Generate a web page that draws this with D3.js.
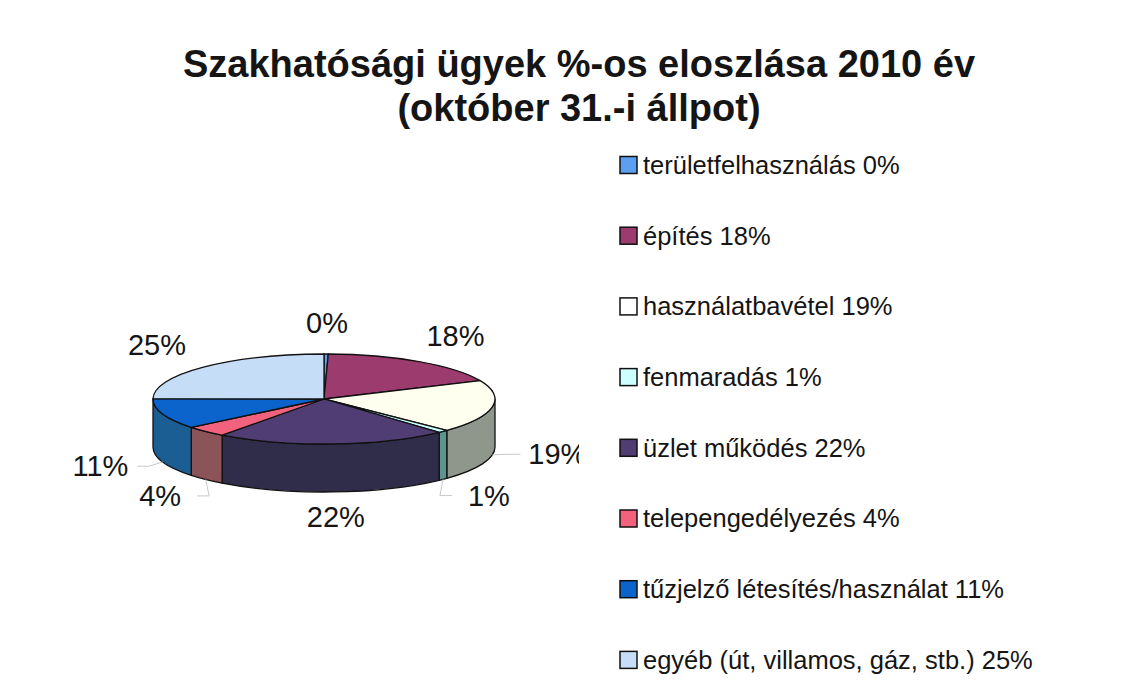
<!DOCTYPE html>
<html>
<head>
<meta charset="utf-8">
<script src="https://cdn.jsdelivr.net/npm/d3@7"></script>
<style>
  body { margin: 0; background: #fff; }
  text { font-family: "Liberation Sans", Arial, sans-serif; fill: #151515; }
</style>
</head>
<body>
<div id="chart"></div>
<script>
const width = 1131, height = 687;

// data (percent), clockwise from 12 o'clock
const categories = ["területfelhasználás", "építés", "használatbavétel", "fenmaradás",
  "üzlet működés", "telepengedélyezés", "tűzjelző létesítés/használat", "egyéb (út, villamos, gáz, stb.)"];
const values = [0.4, 18, 19, 1, 22, 4, 11, 25];
const titleLines = ["Szakhatósági ügyek %-os eloszlása 2010 év", "(október 31.-i állpot)"];

// colours: top face and side wall
const topColors = ["#5b9ff0", "#9b3b6e", "#fffff0", "#ccffff", "#4f3d74", "#f2627c", "#0b63cc", "#c6ddf7"];
const sideColors = ["#3a6aa0", "#5c2040", "#8f978d", "#5e9490", "#302d4a", "#8a5458", "#1a5e94", "#7a8ea6"];

// pie geometry
const cx = 324, cy = 399, rx = 171, ry = 45, depth = 48;
const lx = 237, ly = 76, frontShift = 42;

const svg = d3.select("#chart").append("svg")
  .attr("width", width).attr("height", height);

// title
svg.append("g").selectAll("text")
  .data(titleLines)
  .join("text")
  .attr("x", 579)
  .attr("y", (d, i) => 77 + i * 44)
  .attr("text-anchor", "middle")
  .style("font-size", "38px")
  .style("font-weight", "bold")
  .text(d => d);

const pie = d3.pie().sort(null).value(d => d)
const arcs = pie(values);

const px = a => cx + rx * Math.sin(a);
const py = a => cy - ry * Math.cos(a);

function topPath(d) {
  const large = d.endAngle - d.startAngle > Math.PI ? 1 : 0;
  return `M${cx},${cy}L${px(d.startAngle)},${py(d.startAngle)}` +
    `A${rx},${ry} 0 ${large} 1 ${px(d.endAngle)},${py(d.endAngle)}Z`;
}

// only the front half of the wall is seen
function wallPath(d) {
  const a0 = Math.max(d.startAngle, Math.PI / 2);
  const a1 = Math.min(d.endAngle, Math.PI * 1.5);
  if (a1 <= a0) return null;
  return `M${px(a0)},${py(a0)}A${rx},${ry} 0 0 1 ${px(a1)},${py(a1)}` +
    `L${px(a1)},${py(a1) + depth}A${rx},${ry} 0 0 0 ${px(a0)},${py(a0) + depth}Z`;
}

const plot = svg.append("g");

plot.selectAll(".wall")
  .data(arcs.filter(d => wallPath(d)))
  .join("path")
  .attr("class", "wall")
  .attr("d", wallPath)
  .attr("fill", d => sideColors[d.index])
  .attr("stroke", "#111")
  .attr("stroke-width", 1.3)
  .attr("stroke-linejoin", "round");

plot.selectAll(".slice")
  .data(arcs)
  .join("path")
  .attr("class", "slice")
  .attr("d", topPath)
  .attr("fill", d => topColors[d.index])
  .attr("stroke", "#111")
  .attr("stroke-width", 1.3)
  .attr("stroke-linejoin", "round");

// data labels, clipped at the plot area edge like the original
svg.append("clipPath").attr("id", "plotclip")
  .append("rect").attr("x", 0).attr("y", 0).attr("width", 579).attr("height", height);

const labels = svg.append("g").attr("clip-path", "url(#plotclip)");

const mid = d => (d.startAngle + d.endAngle) / 2;
const labX = d => cx + lx * Math.sin(mid(d));
const labY = d => cy - ly * Math.cos(mid(d)) + (Math.cos(mid(d)) < 0 ? frontShift : 0);
const hasLeader = d => Math.cos(mid(d)) < 0 && Math.abs(Math.sin(mid(d))) > 0.3;

labels.selectAll(".leader")
  .data(arcs.filter(hasLeader))
  .join("polyline")
  .attr("class", "leader")
  .attr("fill", "none")
  .attr("stroke", "#c8c8c8")
  .attr("stroke-width", 1)
  .attr("points", d => {
    const s = Math.sin(mid(d)) > 0 ? -1 : 1;
    const x0 = labX(d) + s * 37, y0 = labY(d);
    const x2 = px(mid(d)), y2 = py(mid(d)) + depth;
    return [[x0, y0], [x0 + s * 12, y0], [x2, y2]].map(p => p.join(",")).join(" ");
  });

labels.selectAll(".lab")
  .data(arcs)
  .join("text")
  .attr("class", "lab")
  .attr("x", labX)
  .attr("y", labY)
  .attr("dy", "0.35em")
  .attr("text-anchor", "middle")
  .style("font-size", "29px")
  .text(d => Math.round(d.data) + "%");

// legend
const legend = svg.append("g").selectAll("g")
  .data(categories)
  .join("g")
  .attr("transform", (d, i) => `translate(620,${165 + i * 70.7})`);

legend.append("rect")
  .attr("x", 0).attr("y", -8.5)
  .attr("width", 17).attr("height", 17)
  .attr("fill", (d, i) => topColors[i] === "#fffff0" ? "#ffffff" : topColors[i])
  .attr("stroke", "#111")
  .attr("stroke-width", 1.5);

legend.append("text")
  .attr("x", 23)
  .attr("dy", "0.35em")
  .style("font-size", "25.5px")
  .text((d, i) => `${d} ${Math.round(values[i])}%`);
</script>
</body>
</html>
